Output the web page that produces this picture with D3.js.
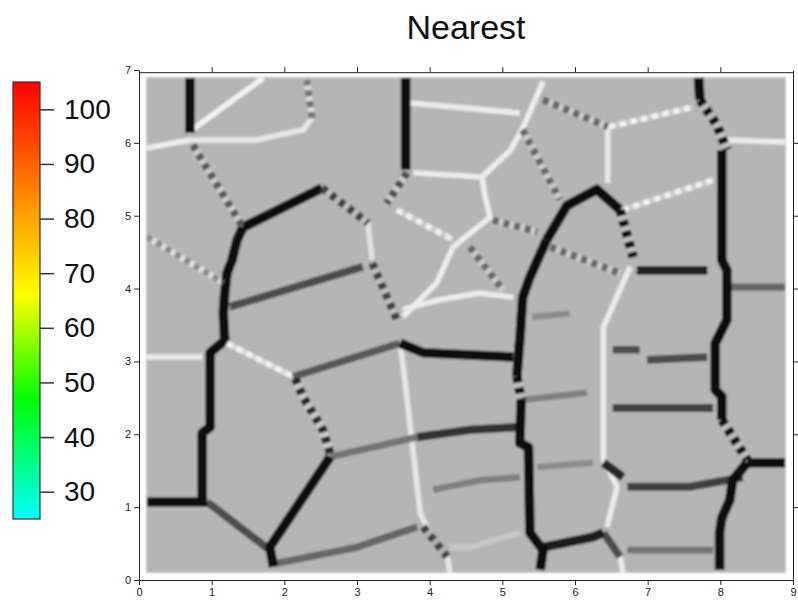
<!DOCTYPE html>
<html>
<head>
<meta charset="utf-8">
<script src="https://cdn.jsdelivr.net/npm/d3@7"></script>
<style>
  body { margin: 0; background: #fff; }
  text { font-family: "Liberation Sans", Arial, sans-serif; }
</style>
</head>
<body>
<svg id="chart" width="798" height="607"></svg>
<script>
// axis ticks
const xTicks = [0, 1, 2, 3, 4, 5, 6, 7, 8, 9];
const yTicks = [0, 1, 2, 3, 4, 5, 6, 7];

// colour bar
const cbDomain = [25, 105];
const cbTicks = [30, 40, 50, 60, 70, 80, 90, 100];
const cbStops = [25, 47, 66, 105];
const cbColors = ['#00ffff', '#00ff00', '#ffff00', '#ff0000'];

// gridded field: background level and its extent
const fieldLevel = 0.71;
const fieldExtent = [[0.1, 0.1], [8.9, 6.9]];

// edges: [grey level (0 black .. 1 white), alternate dash level or null, points [x, y]]
const edges = [
  [0.04, null, [[0.70, 6.89], [0.70, 6.14]]],
  [0.93, null, [[0.11, 5.93], [0.70, 6.04]]],
  [0.95, null, [[0.73, 6.18], [1.71, 6.89]]],
  [0.90, null, [[0.70, 6.04], [1.62, 6.04], [2.26, 6.18], [2.38, 6.34]]],
  [0.85, 0.45, [[2.38, 6.34], [2.31, 6.86]]],
  [0.80, 0.35, [[0.74, 5.97], [1.43, 4.84]]],
  [0.04, null, [[1.43, 4.84], [2.52, 5.38]]],
  [0.75, 0.25, [[2.52, 5.38], [3.15, 4.90]]],
  [0.88, null, [[3.15, 4.90], [3.21, 4.39]]],
  [0.75, 0.25, [[3.21, 4.35], [3.55, 3.57]]],
  [0.04, null, [[1.43, 4.84], [1.35, 4.67], [1.28, 4.39], [1.21, 4.21], [1.18, 3.94], [1.16, 3.66], [1.18, 3.29], [0.98, 3.12], [0.98, 2.10], [0.87, 2.02], [0.87, 1.07]]],
  [0.30, null, [[1.25, 3.75], [3.08, 4.30]]],
  [0.88, 0.55, [[0.11, 4.71], [1.16, 4.08]]],
  [0.04, null, [[3.67, 6.89], [3.67, 5.63]]],
  [0.80, 0.30, [[3.69, 5.59], [3.41, 5.17]]],
  [0.92, null, [[3.77, 5.59], [4.72, 5.53]]],
  [0.92, null, [[3.69, 6.55], [5.24, 6.41]]],
  [0.80, 0.95, [[3.55, 5.08], [4.32, 4.67]]],
  [0.93, null, [[3.63, 3.61], [4.10, 4.08], [4.32, 4.57], [4.83, 4.98], [4.76, 5.28], [4.72, 5.53], [5.11, 5.90], [5.28, 6.20], [5.56, 6.84]]],
  [0.92, null, [[3.63, 3.71], [4.10, 3.84], [4.69, 3.94], [5.15, 3.88]]],
  [0.80, 0.40, [[5.56, 6.59], [6.45, 6.22]]],
  [0.80, 0.40, [[5.28, 6.18], [5.79, 5.22]]],
  [0.90, null, [[6.45, 6.22], [6.45, 5.45]]],
  [0.80, 0.95, [[6.47, 6.22], [7.62, 6.49]]],
  [0.04, null, [[7.70, 6.89], [7.72, 6.59]]],
  [0.75, 0.05, [[7.72, 6.59], [7.95, 6.25], [8.09, 5.90]]],
  [0.04, null, [[8.02, 5.90], [8.02, 4.39], [8.09, 4.25], [8.09, 3.57], [8.02, 3.43], [7.93, 3.25], [7.93, 2.61], [8.02, 2.52], [8.02, 2.20]]],
  [0.75, 0.05, [[8.02, 2.20], [8.37, 1.65]]],
  [0.04, null, [[8.37, 1.61], [8.17, 1.37], [8.13, 1.10], [8.02, 0.85], [7.99, 0.65], [7.99, 0.14]]],
  [0.92, null, [[8.09, 6.04], [8.89, 6.01]]],
  [0.80, 0.95, [[6.66, 5.08], [7.90, 5.49]]],
  [0.04, null, [[5.61, 4.67], [5.89, 5.14], [6.30, 5.36], [6.62, 5.08]]],
  [0.75, 0.05, [[6.62, 5.08], [6.80, 4.43]]],
  [0.04, null, [[5.61, 4.67], [5.38, 4.16], [5.28, 3.88], [5.25, 3.43], [5.20, 2.79]]],
  [0.75, 0.05, [[5.20, 2.79], [5.26, 2.47]]],
  [0.04, null, [[5.26, 2.47], [5.24, 1.88], [5.36, 1.82], [5.38, 0.65], [5.56, 0.41], [5.52, 0.14]]],
  [0.80, 0.40, [[4.87, 4.94], [5.48, 4.78]]],
  [0.80, 0.40, [[5.66, 4.57], [6.62, 4.21]]],
  [0.80, 0.40, [[4.55, 4.57], [5.01, 3.98]]],
  [0.92, null, [[6.76, 4.30], [6.39, 3.47], [6.39, 1.65], [6.58, 1.28], [6.44, 0.73]]],
  [0.92, null, [[6.62, 0.32], [6.66, 0.10]]],
  [0.13, null, [[6.85, 4.25], [7.82, 4.25]]],
  [0.40, null, [[8.13, 4.02], [8.89, 4.02]]],
  [0.55, null, [[5.41, 3.61], [5.93, 3.66]]],
  [0.06, null, [[3.59, 3.25], [3.91, 3.12], [5.15, 3.06]]],
  [0.35, null, [[2.12, 2.79], [3.59, 3.25]]],
  [0.85, 0.95, [[1.21, 3.25], [2.12, 2.79]]],
  [0.80, 0.15, [[2.63, 1.74], [2.53, 2.06], [2.26, 2.51], [2.15, 2.77]]],
  [0.05, null, [[1.85, 0.18], [1.80, 0.45], [2.63, 1.69]]],
  [0.30, null, [[0.94, 1.07], [1.80, 0.41]]],
  [0.04, null, [[0.11, 1.07], [0.94, 1.07]]],
  [0.92, null, [[0.11, 3.06], [0.87, 3.06]]],
  [0.45, null, [[2.63, 1.69], [3.83, 1.96]]],
  [0.20, null, [[3.83, 1.96], [4.55, 2.06], [5.24, 2.10]]],
  [0.50, null, [[4.05, 1.24], [4.69, 1.37], [5.24, 1.41]]],
  [0.40, null, [[1.90, 0.23], [3.00, 0.45], [3.83, 0.73]]],
  [0.70, 0.25, [[3.91, 0.73], [4.24, 0.32]]],
  [0.90, null, [[3.59, 3.29], [3.67, 2.65], [3.87, 0.92], [4.00, 0.65]]],
  [0.90, null, [[4.24, 0.32], [4.28, 0.10]]],
  [0.78, null, [[4.28, 0.45], [4.55, 0.45], [5.24, 0.65]]],
  [0.50, null, [[5.28, 2.47], [6.16, 2.57]]],
  [0.25, null, [[6.52, 2.36], [7.90, 2.36]]],
  [0.30, null, [[6.52, 3.16], [6.89, 3.16]]],
  [0.30, null, [[6.99, 3.02], [7.82, 3.06]]],
  [0.55, null, [[5.48, 1.55], [6.25, 1.61]]],
  [0.15, null, [[6.39, 1.61], [6.66, 1.41]]],
  [0.25, null, [[6.72, 1.28], [7.58, 1.28], [8.31, 1.41]]],
  [0.04, null, [[8.37, 1.61], [8.89, 1.61]]],
  [0.10, null, [[5.56, 0.45], [6.25, 0.59], [6.39, 0.65]]],
  [0.30, null, [[6.39, 0.65], [6.62, 0.32]]],
  [0.45, null, [[6.72, 0.41], [7.90, 0.41]]],
];

const svg = d3.select('#chart');
const plot = { left: 139, right: 793, top: 70, bottom: 580 };

const x = d3.scaleLinear().domain([0, 9]).range([plot.left, plot.right]);
const y = d3.scaleLinear().domain([0, 7]).range([plot.bottom, plot.top]);
const grey = v => d3.rgb(255 * v, 255 * v, 255 * v).toString();

const defs = svg.append('defs');
defs.append('filter').attr('id', 'soft')
  .append('feGaussianBlur').attr('stdDeviation', 0.8);
defs.append('clipPath').attr('id', 'fieldClip')
  .append('rect')
  .attr('x', x(fieldExtent[0][0]))
  .attr('y', y(fieldExtent[1][1]))
  .attr('width', x(fieldExtent[1][0]) - x(fieldExtent[0][0]))
  .attr('height', y(fieldExtent[0][1]) - y(fieldExtent[1][1]));

// field
const field = svg.append('g').attr('filter', 'url(#soft)');
field.append('rect')
  .attr('x', x(fieldExtent[0][0]))
  .attr('y', y(fieldExtent[1][1]))
  .attr('width', x(fieldExtent[1][0]) - x(fieldExtent[0][0]))
  .attr('height', y(fieldExtent[0][1]) - y(fieldExtent[1][1]))
  .attr('fill', grey(fieldLevel));

const line = d3.line().x(d => x(d[0])).y(d => y(d[1]));
const width = v => 5.5 + 4.5 * (1 - v) * (1 - v);

const edgeG = field.append('g').attr('clip-path', 'url(#fieldClip)');
const sorted = edges.slice().sort((a, b) => b[0] - a[0]);

edgeG.selectAll('path.base')
  .data(sorted)
  .enter()
  .append('path')
  .attr('class', 'base')
  .attr('d', d => line(d[2]))
  .attr('fill', 'none')
  .attr('stroke', d => grey(d[0]))
  .attr('stroke-width', d => width(Math.min(d[0], d[1] == null ? 1 : d[1])))
  .attr('stroke-linejoin', 'round')
  .attr('stroke-linecap', 'butt');

edgeG.selectAll('path.dash')
  .data(sorted.filter(d => d[1] != null))
  .enter()
  .append('path')
  .attr('class', 'dash')
  .attr('d', d => line(d[2]))
  .attr('fill', 'none')
  .attr('stroke', d => grey(d[1]))
  .attr('stroke-width', d => width(Math.min(d[0], d[1])))
  .attr('stroke-dasharray', '6,5')
  .attr('stroke-linecap', 'butt');

// axes
const axisStyle = g => {
  g.selectAll('path, line').attr('stroke', '#222');
  g.selectAll('text').attr('font-size', '11px').attr('fill', '#222');
};
const fmt = d3.format('d');
svg.append('g').attr('transform', `translate(0,${plot.bottom})`)
  .call(d3.axisBottom(x).tickValues(xTicks).tickFormat(fmt).tickSize(5).tickSizeOuter(0).tickPadding(3))
  .call(axisStyle);
svg.append('g').attr('transform', `translate(${plot.left},0)`)
  .call(d3.axisLeft(y).tickValues(yTicks).tickFormat(fmt).tickSize(5).tickSizeOuter(0).tickPadding(3))
  .call(axisStyle);
svg.append('g').attr('transform', `translate(0,${y(6.97)})`)
  .call(d3.axisTop(x).tickValues(xTicks.slice(1, -1)).tickSize(5).tickSizeOuter(0).tickFormat(''))
  .call(axisStyle);
svg.append('g').attr('transform', `translate(${plot.right},0)`)
  .call(d3.axisRight(y).tickValues(yTicks.slice(1, -1)).tickSize(5).tickSizeOuter(0).tickFormat(''))
  .call(axisStyle);

// title
svg.append('text')
  .attr('x', (plot.left + plot.right) / 2)
  .attr('y', 39)
  .attr('text-anchor', 'middle')
  .attr('font-size', '34px')
  .attr('fill', '#111')
  .text('Nearest');

// colour bar
const cb = { x: 13, w: 27, top: 82, bottom: 519 };
const c = d3.scaleLinear().domain(cbDomain).range([cb.bottom, cb.top]);
const grad = defs.append('linearGradient').attr('id', 'cbGrad')
  .attr('x1', 0).attr('y1', 1).attr('x2', 0).attr('y2', 0);
grad.selectAll('stop')
  .data(cbStops)
  .enter()
  .append('stop')
  .attr('offset', d => (d - cbDomain[0]) / (cbDomain[1] - cbDomain[0]))
  .attr('stop-color', (d, i) => cbColors[i]);

svg.append('rect')
  .attr('x', cb.x).attr('y', cb.top)
  .attr('width', cb.w).attr('height', cb.bottom - cb.top)
  .attr('fill', 'url(#cbGrad)')
  .attr('stroke', '#333').attr('stroke-width', 1.2);

const cbAxis = svg.append('g').attr('transform', `translate(${cb.x + cb.w},0)`)
  .call(d3.axisRight(c).tickValues(cbTicks).tickSize(14).tickPadding(10));
cbAxis.select('.domain').remove();
cbAxis.selectAll('line').attr('stroke', '#333').attr('stroke-width', 1.5);
cbAxis.selectAll('text').attr('font-size', '28px').attr('fill', '#111');
</script>
</body>
</html>
